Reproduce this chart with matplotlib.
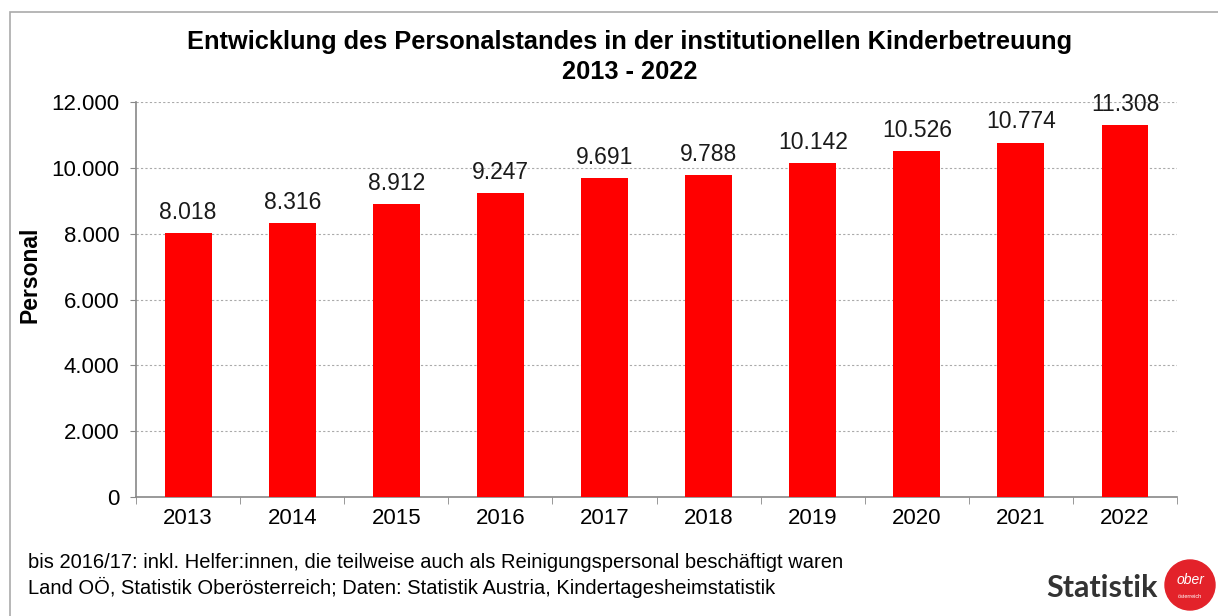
import matplotlib.pyplot as plt
from matplotlib.patches import Rectangle, Ellipse
import matplotlib
matplotlib.rcParams['font.family'] = ['Liberation Sans', 'DejaVu Sans']

years = ['2013', '2014', '2015', '2016', '2017', '2018', '2019', '2020', '2021', '2022']
personal = [8018, 8316, 8912, 9247, 9691, 9788, 10142, 10526, 10774, 11308]
yticks = [0, 2000, 4000, 6000, 8000, 10000, 12000]

def fmt(v):
    return f"{v:,}".replace(',', '.')

W, H = 1218, 616
fig = plt.figure(figsize=(W / 100, H / 100), dpi=100)
ax = fig.add_axes([0.1117, 0.193, 0.8547, 0.641])

x = range(len(years))
ax.bar(x, personal, width=0.45, color='#ff0000', zorder=3)
for i, v in zip(x, personal):
    ax.text(i, v + 280, fmt(v), ha='center', va='bottom', fontsize=16.5, color='#1a1a1a')

ax.set_xlim(-0.5, len(years) - 0.5)
ax.set_ylim(0, 12000)
ax.set_yticks(yticks)
ax.set_yticklabels([fmt(t) for t in yticks], fontsize=16)
ax.set_xticks(list(x))
ax.set_xticklabels(years, fontsize=16)
ax.tick_params(axis='x', length=0, pad=8)
ax.set_xticks([i - 0.5 for i in range(len(years) + 1)], minor=True)
ax.tick_params(axis='x', which='minor', length=5, color='#888888', direction='out')
ax.tick_params(axis='y', length=4, color='#888888', pad=8)
ax.yaxis.grid(True, linestyle=(0, (2, 2)), color='#aaaaaa', linewidth=0.8, zorder=0)
ax.set_axisbelow(True)
for s in ['top', 'right']:
    ax.spines[s].set_visible(False)
for s in ['left', 'bottom']:
    ax.spines[s].set_color('#888888')
    ax.spines[s].set_linewidth(1.2)

fig.text(30 / W, 1 - 275 / H, 'Personal', rotation=90, ha='center', va='center',
         fontsize=16.5, fontweight='bold')

fig.text(0.517, 1 - 42 / H, 'Entwicklung des Personalstandes in der institutionellen Kinderbetreuung',
         ha='center', va='center', fontsize=18.3, fontweight='bold')
fig.text(0.517, 1 - 72 / H, '2013 - 2022', ha='center', va='center', fontsize=18.3, fontweight='bold')

fig.text(28 / W, 1 - 563 / H, 'bis 2016/17: inkl. Helfer:innen, die teilweise auch als Reinigungspersonal beschäftigt waren',
         ha='left', va='center', fontsize=14.5)
fig.text(28 / W, 1 - 587 / H, 'Land OÖ, Statistik Oberösterreich; Daten: Statistik Austria, Kindertagesheimstatistik',
         ha='left', va='center', fontsize=14.5)

# frame
frame = Rectangle((10 / W, -0.1), 1.2, 1.1 - 12 / H, transform=fig.transFigure,
                  fill=False, edgecolor='#aaaaaa', linewidth=1.2)
fig.patches.append(frame)

# logo
fig.text(1158 / W, 1 - 588 / H, 'Statistik', ha='right', va='center', fontsize=22, color='#333333',
         family=['Lato', 'DejaVu Sans'], fontweight='bold')
logo = Ellipse((1190 / W, 1 - 585 / H), 50 / W, 50 / H, transform=fig.transFigure, color='#e3222a')
fig.patches.append(logo)
fig.text(1190 / W, 1 - 580 / H, 'ober', ha='center', va='center', fontsize=10, color='white', style='italic')
fig.text(1190 / W, 1 - 596 / H, 'österreich', ha='center', va='center', fontsize=4, color='white')

fig.savefig('out.png', dpi=100)
